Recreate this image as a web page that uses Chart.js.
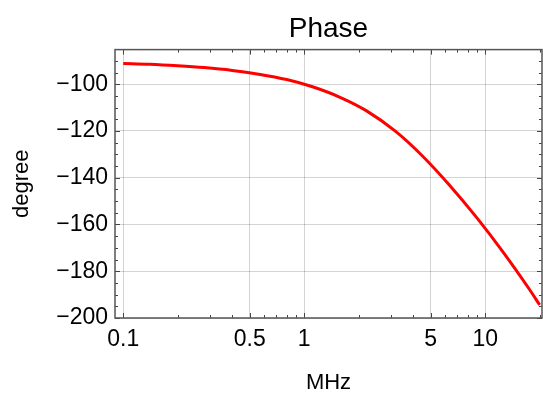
<!DOCTYPE html>
<html lang="en">
<head>
  <meta charset="UTF-8">
  <title>Phase</title>
  <script src="https://cdn.jsdelivr.net/npm/chart.js"></script>
  <style>
    body { margin: 0; background: #fff; }
    #wrap { width: 543px; height: 396px; }
  </style>
</head>
<body>
  <div id="wrap"><canvas id="phaseChart" width="543" height="396"></canvas></div>

  <script>
    // data
    const freqMHz = [0.1, 0.14, 0.2, 0.28, 0.4, 0.56, 0.8, 1.1, 1.6, 2.2, 3.2, 4.5, 6.3, 9, 12.5, 17.5, 20];
    const phaseDeg = [-91.1, -91.45, -92.1, -92.9, -94.1, -95.7, -98.0, -101.0, -105.8, -111.3, -120.2, -130.7, -142.9, -157.2, -171.6, -187.6, -194.4];

    const xTicks = [0.1, 0.5, 1, 5, 10];
    const xMinor = [0.2, 0.3, 0.4, 0.6, 0.7, 0.8, 0.9, 2, 3, 4, 6, 7, 8, 9, 20];
    const yTicks = [-200, -180, -160, -140, -120, -100];
    const yMinor = [-195, -190, -185, -175, -170, -165, -155, -150, -145, -135, -130, -125, -115, -110, -105, -95, -90];

    const FONT = "'Liberation Sans', Arial, sans-serif";

    // box frame with inward tick marks
    const framePlugin = {
      id: 'frame',
      afterDatasetsDraw(chart) {
        const { ctx, chartArea: a, scales: { x, y } } = chart;
        ctx.save();
        ctx.strokeStyle = '#444';
        ctx.lineWidth = 1;
        ctx.beginPath();
        xTicks.concat(xMinor).forEach(v => {
          const px = Math.round(x.getPixelForValue(v)) + 0.5;
          const len = xTicks.includes(v) ? 5 : 3;
          ctx.moveTo(px, a.bottom); ctx.lineTo(px, a.bottom - len);
          ctx.moveTo(px, a.top); ctx.lineTo(px, a.top + len);
        });
        yTicks.concat(yMinor).forEach(v => {
          const py = Math.round(y.getPixelForValue(v)) + 0.5;
          const len = yTicks.includes(v) ? 5 : 3;
          ctx.moveTo(a.left, py); ctx.lineTo(a.left + len, py);
          ctx.moveTo(a.right, py); ctx.lineTo(a.right - len, py);
        });
        ctx.stroke();
        ctx.lineWidth = 1.5;
        ctx.strokeStyle = '#555';
        ctx.strokeRect(a.left, a.top, a.right - a.left, a.bottom - a.top);
        ctx.restore();
      }
    };

    new Chart(document.getElementById('phaseChart'), {
      type: 'line',
      data: {
        datasets: [{
          data: freqMHz.map((f, i) => ({ x: f, y: phaseDeg[i] })),
          borderColor: '#ff0000',
          borderWidth: 3,
          pointRadius: 0,
          cubicInterpolationMode: 'monotone',
          fill: false
        }]
      },
      options: {
        responsive: false,
        animation: false,
        devicePixelRatio: 1,
        layout: { padding: { left: 0, right: 1, top: 0, bottom: 0 } },
        plugins: {
          legend: { display: false },
          tooltip: { enabled: false },
          title: {
            display: true,
            text: 'Phase',
            fullSize: false,
            color: '#000',
            font: { family: FONT, size: 28, weight: 'normal' },
            padding: { top: 12, bottom: 4 }
          }
        },
        scales: {
          x: {
            type: 'logarithmic',
            min: 0.09,
            max: 20.6,
            afterBuildTicks: s => { s.ticks = xTicks.map(v => ({ value: v })); },
            afterFit: s => { s.height = 78; },
            ticks: {
              autoSkip: false,
              maxRotation: 0,
              padding: 8,
              color: '#000',
              font: { family: FONT, size: 23 },
              callback: v => String(v)
            },
            grid: { color: 'rgba(0,0,0,0.17)', drawTicks: false },
            border: { display: false },
            title: {
              display: true,
              text: 'MHz',
              color: '#000',
              font: { family: FONT, size: 22 },
              padding: { top: 0, bottom: 0 }
            }
          },
          y: {
            min: -200,
            max: -85.2,
            afterBuildTicks: s => { s.ticks = yTicks.map(v => ({ value: v })); },
            afterFit: s => { s.width = 115; },
            ticks: {
              padding: 7,
              color: '#000',
              font: { family: FONT, size: 23 },
              callback: v => String(v).replace('-', '\u2212')
            },
            grid: { color: 'rgba(0,0,0,0.17)', drawTicks: false },
            border: { display: false },
            title: {
              display: true,
              text: 'degree',
              color: '#000',
              font: { family: FONT, size: 22 },
              padding: { top: 9, bottom: 0 }
            }
          }
        }
      },
      plugins: [framePlugin]
    });
  </script>
</body>
</html>
